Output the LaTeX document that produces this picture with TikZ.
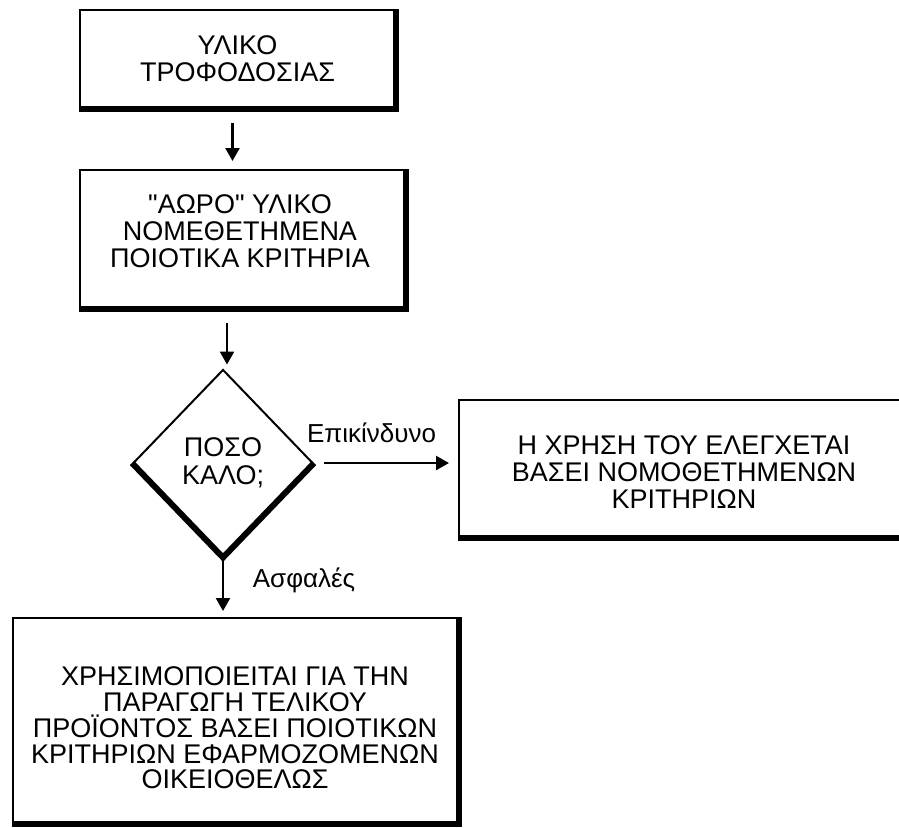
\documentclass[tikz,border=0pt]{standalone}
\usepackage{fontspec}
\setmainfont{Liberation Sans}
\usepackage{tikz}
\usetikzlibrary{shapes.geometric,arrows.meta,positioning}

\tikzset{
  box/.style={draw, line width=1pt, rectangle, align=center, font=\fontsize{13.5}{13.5}\selectfont},
  decision/.style={draw, line width=1pt, diamond, align=center, inner sep=0pt, font=\fontsize{13.5}{14}\selectfont},
  shade/.style={line width=3pt},
  arr/.style={line width=1.2pt, -{Triangle[width=7pt,length=6.5pt]}},
  lbl/.style={font=\fontsize{13}{13}\selectfont}
}

\begin{document}
\begin{tikzpicture}[x=0.5pt,y=-0.5pt]
\clip (0,0) rectangle (899,827);

\node[box, minimum width=157.5pt, minimum height=49pt] (feed) at (237.5,59) {ΥΛΙΚΟ\\ΤΡΟΦΟΔΟΣΙΑΣ};
\node[box, minimum width=162.5pt, minimum height=69pt] (raw) at (242.5,239) {};
\node (rawtext) at (240,231) [align=center, font=\fontsize{13.5}{13.5}\selectfont] {\textquotedbl ΑΩΡΟ\textquotedbl\ ΥΛΙΚΟ\\ΝΟΜΕΘΕΤΗΜΕΝΑ\\ΠΟΙΟΤΙΚΑ ΚΡΙΤΗΡΙΑ};
\node[decision, minimum width=90pt, minimum height=93.5pt] (check) at (223,463) {ΠΟΣΟ\\ΚΑΛΟ;};
\node[box, minimum width=231pt, minimum height=68.5pt] (use) at (690,468.5) {};
\node (usetext) at (684,472) [align=center, font=\fontsize{13.5}{13.5}\selectfont] {Η ΧΡΗΣΗ ΤΟΥ ΕΛΕΓΧΕΤΑΙ\\ΒΑΣΕΙ ΝΟΜΟΘΕΤΗΜΕΝΩΝ\\ΚΡΙΤΗΡΙΩΝ};
\node[box, minimum width=222.5pt, minimum height=102.5pt] (final) at (235,720.5) {};
\node (finaltext) at (235,728) [align=center, font=\fontsize{13.5}{12.9}\selectfont] {ΧΡΗΣΙΜΟΠΟΙΕΙΤΑΙ ΓΙΑ ΤΗΝ\\ΠΑΡΑΓΩΓΗ ΤΕΛΙΚΟΥ\\ΠΡΟΪΟΝΤΟΣ ΒΑΣΕΙ ΠΟΙΟΤΙΚΩΝ\\ΚΡΙΤΗΡΙΩΝ ΕΦΑΡΜΟΖΟΜΕΝΩΝ\\ΟΙΚΕΙΟΘΕΛΩΣ};

% heavy edges
\draw[shade] (feed.north east) -- (feed.south east) -- (feed.south west);
\draw[shade] (raw.north east) -- (raw.south east) -- (raw.south west);
\draw[shade] (check.west) -- (check.south) -- (check.east);
\draw[shade] (use.south west) -- (use.south east);
\draw[shade] (final.north east) -- (final.south east) -- (final.south west);

% arrows
\draw[arr, shorten <=7pt, shorten >=4pt] (feed.south -| raw.north) ++(-10,0) coordinate (a1) -- (a1 |- raw.north);
\draw[arr, shorten <=7pt, shorten >=2pt] (raw.south -| check.north) ++(4,0) coordinate (a2) -- (a2 |- check.north);
\draw[arr, shorten <=5pt, shorten >=4.5pt] (check.east) -- (check.east -| use.west)
  node[lbl, above, pos=0.4, yshift=6pt] (danger) {Επικίνδυνο};
\draw[arr, shorten <=1.5pt, shorten >=3pt] (check.south) -- (check.south |- final.north)
  node[lbl, right, pos=0.38, xshift=11pt] (safe) {Ασφαλές};

\end{tikzpicture}
\end{document}
